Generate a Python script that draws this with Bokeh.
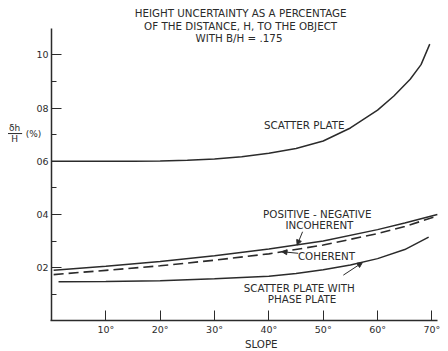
from bokeh.plotting import figure
from bokeh.models import FixedTicker, Label, Arrow, NormalHead, Range1d, LinearAxis
from bokeh.embed import file_html
from bokeh.resources import INLINE

# ---- data ----
scatter_x = [0, 5, 10, 15, 20, 25, 30, 35, 40, 45, 50, 55, 60, 63, 66, 68, 69.6]
scatter_y = [0.600, 0.600, 0.600, 0.600, 0.601, 0.604, 0.608, 0.617, 0.630, 0.648, 0.676, 0.725, 0.792, 0.845, 0.908, 0.963, 1.040]

incoh_x = [0.4, 10, 20, 30, 40, 50, 60, 65, 71]
incoh_y = [0.190, 0.205, 0.223, 0.245, 0.270, 0.300, 0.343, 0.368, 0.400]

coh_x = [0.4, 10, 20, 30, 40, 50, 60, 65, 71]
coh_y = [0.174, 0.190, 0.207, 0.228, 0.252, 0.285, 0.328, 0.355, 0.394]

phase_x = [1.3, 10, 20, 30, 40, 45, 50, 55, 60, 65, 69.4]
phase_y = [0.147, 0.148, 0.151, 0.158, 0.168, 0.178, 0.192, 0.210, 0.234, 0.268, 0.315]

x_ticks = [10, 20, 30, 40, 50, 60, 70]
x_tick_labels = ["10°", "20°", "30°", "40°", "50°", "60°", "70°"]
y_ticks = [0.2, 0.4, 0.6, 0.8, 1.0]
y_tick_labels = ["02", "04", "06", "08", "10"]
y_minor = [0.1, 0.3, 0.5, 0.7, 0.9]

title_lines = ["HEIGHT UNCERTAINTY AS A PERCENTAGE",
               "OF THE DISTANCE, H, TO THE OBJECT",
               "WITH  B/H = .175"]

INK = "#2b2b2b"
FONT = "DejaVu Sans"
FS = "10.3px"

p = figure(width=448, height=351, output_backend="svg", toolbar_location=None,
           x_range=Range1d(-9.38, 73.05), y_range=Range1d(-0.115, 1.204),
           x_axis_location=None, y_axis_location=None,
           min_border=0)
p.background_fill_color = "white"
p.border_fill_color = "white"
p.outline_line_color = None
p.grid.visible = False

xax = LinearAxis(fixed_location=0, bounds=(-0.2, 71.0))
yax = LinearAxis(fixed_location=0, bounds=(0, 1.10))
p.add_layout(xax, "below")
p.add_layout(yax, "left")

xax.ticker = FixedTicker(ticks=x_ticks)
xax.major_label_overrides = dict(zip(x_ticks, x_tick_labels))
yax.ticker = FixedTicker(ticks=y_ticks, minor_ticks=y_minor)
yax.major_label_overrides = dict(zip(y_ticks, y_tick_labels))
for ax in (xax, yax):
    ax.axis_line_color = INK
    ax.axis_line_width = 1.5
    ax.major_tick_in = 10
    ax.major_tick_out = 0
    ax.major_tick_line_color = INK
    ax.major_tick_line_width = 1
    ax.major_label_text_font = FONT
    ax.major_label_text_font_size = "9.5px"
    ax.major_label_text_color = INK
    ax.major_label_standoff = 3
xax.minor_tick_line_color = None
yax.minor_tick_in = 5
yax.minor_tick_out = 0
yax.minor_tick_line_color = INK
yax.minor_tick_line_width = 1

# curves
p.line(scatter_x, scatter_y, line_color=INK, line_width=1.5)
p.line(incoh_x, incoh_y, line_color=INK, line_width=1.5)
p.line(coh_x, coh_y, line_color=INK, line_width=1.6, line_dash="10 5")
p.line(phase_x, phase_y, line_color=INK, line_width=1.5)

def lab(x, y, t, align="center", fs=FS):
    p.add_layout(Label(x=x, y=y, text=t, text_font=FONT, text_font_size=fs,
                       text_color=INK, text_align=align, text_baseline="middle"))

for t, yy in zip(title_lines, [1.156, 1.11, 1.062]):
    lab(34.8, yy, t)

lab(46.5, 0.738, "SCATTER PLATE")
lab(48.9, 0.403, "POSITIVE - NEGATIVE")
lab(49.3, 0.362, "INCOHERENT")
lab(50.6, 0.242, "COHERENT")
lab(45.6, 0.125, "SCATTER PLATE WITH")
lab(46.1, 0.084, "PHASE PLATE")
lab(38.6, -0.085, "SLOPE")

# y label as a fraction
lab(-6.8, 0.724, "δh", fs="9px")
lab(-6.8, 0.683, "H", fs="9px")
lab(-3.3, 0.703, "(%)", fs="9px")
p.add_layout(Arrow(x_start=-8.0, y_start=0.704, x_end=-5.4, y_end=0.704,
                   end=None, line_color=INK, line_width=1))

# leaders
for (xs, ys, xe, ye) in [(46.2, 0.335, 45.2, 0.285),
                         (45.4, 0.254, 42.4, 0.260),
                         (53.7, 0.172, 57.2, 0.219)]:
    p.add_layout(Arrow(x_start=xs, y_start=ys, x_end=xe, y_end=ye,
                       end=NormalHead(size=5, fill_color=INK, line_color=INK),
                       line_color=INK, line_width=1))

open("out.html", "w").write(file_html(p, INLINE))
